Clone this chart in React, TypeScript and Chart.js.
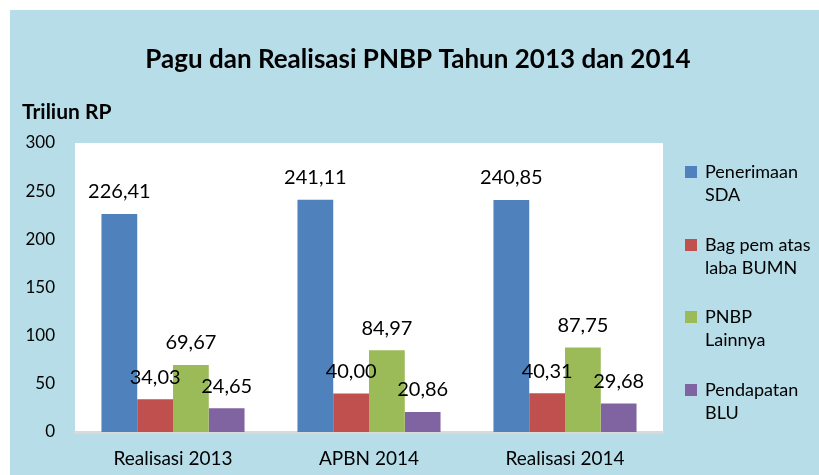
import React, { useEffect, useRef } from "react";
import { Chart, registerables } from "chart.js";

Chart.register(...registerables);

const categories = ["Realisasi 2013", "APBN 2014", "Realisasi 2014"];
const seriesLines = [
  ["Penerimaan", "SDA"],
  ["Bag pem atas", "laba BUMN"],
  ["PNBP", "Lainnya"],
  ["Pendapatan", "BLU"],
];
const penerimaanSDA = [226.41, 241.11, 240.85];
const bagPemBUMN = [34.03, 40.0, 40.31];
const pnbpLainnya = [69.67, 84.97, 87.75];
const pendapatanBLU = [24.65, 20.86, 29.68];
const seriesColors = ["#4F81BD", "#C0504D", "#9BBB59", "#8064A2"];
const yTicks = [0, 50, 100, 150, 200, 250, 300];
const titleText = "Pagu dan Realisasi PNBP Tahun 2013 dan 2014";
const axisTitle = "Triliun RP";

const FONT = "Lato, 'Open Sans', sans-serif";

const decorPlugin = {
  id: "decor",
  beforeDraw(chart: any) {
    const { ctx, chartArea, width, height } = chart;
    ctx.save();
    ctx.fillStyle = "#B7DDE8";
    ctx.fillRect(0, 0, width, height);
    ctx.fillStyle = "#FFFFFF";
    ctx.fillRect(chartArea.left, chartArea.top, chartArea.right - chartArea.left, chartArea.bottom - chartArea.top);
    ctx.restore();
  },
  afterDraw(chart: any) {
    const { ctx } = chart;
    ctx.save();
    ctx.fillStyle = "#000";
    ctx.textBaseline = "middle";
    ctx.textAlign = "center";
    ctx.font = `bold 26px ${FONT}`;
    ctx.fillText(titleText, 408, 50);
    ctx.textAlign = "left";
    ctx.font = `bold 21px ${FONT}`;
    ctx.fillText(axisTitle, 12, 102);
    const starts = [162, 235, 307, 380];
    ctx.font = `18px ${FONT}`;
    seriesLines.forEach((lines, i) => {
      const y0 = starts[i];
      ctx.fillStyle = seriesColors[i];
      ctx.fillRect(675, y0 - 6, 12, 12);
      ctx.fillStyle = "#000";
      lines.forEach((ln, j) => {
        ctx.fillText(ln, 695, y0 + j * 23);
      });
    });
    ctx.restore();
  },
  afterDatasetsDraw(chart: any) {
    const { ctx } = chart;
    ctx.save();
    ctx.fillStyle = "#000";
    ctx.font = `20px ${FONT}`;
    ctx.textAlign = "center";
    ctx.textBaseline = "middle";
    chart.data.datasets.forEach((ds: any, i: number) => {
      const meta = chart.getDatasetMeta(i);
      meta.data.forEach((bar: any, j: number) => {
        const v = ds.data[j] as number;
        ctx.fillText(v.toFixed(2).replace(".", ","), bar.x, bar.y - 22);
      });
    });
    ctx.restore();
  },
};

export default function App() {
  const ref = useRef<HTMLCanvasElement | null>(null);
  useEffect(() => {
    if (!ref.current) return;
    const allSeries = [penerimaanSDA, bagPemBUMN, pnbpLainnya, pendapatanBLU];
    const chart = new Chart(ref.current, {
      type: "bar",
      data: {
        labels: categories,
        datasets: allSeries.map((d, i) => ({
          label: seriesLines[i].join(" "),
          data: d,
          backgroundColor: seriesColors[i],
          borderWidth: 0,
          categoryPercentage: 0.73,
          barPercentage: 1,
        })),
      },
      options: {
        animation: false,
        responsive: false,
        maintainAspectRatio: false,
        layout: { padding: { left: 10, right: 156, top: 133, bottom: 3 } },
        plugins: {
          legend: { display: false },
          title: { display: false },
          tooltip: { enabled: false },
        },
        scales: {
          x: {
            grid: { display: false, drawTicks: false },
            border: { display: true, color: "#D9D9D9", width: 3 },
            ticks: { color: "#000", font: { family: FONT, size: 19 }, padding: 15, maxRotation: 0 },
            afterFit(scale: any) {
              scale.height = 40;
            },
          },
          y: {
            min: 0,
            max: 300,
            grid: { display: false, drawTicks: false },
            border: { display: false },
            afterBuildTicks(scale: any) {
              scale.ticks = yTicks.map((v) => ({ value: v }));
            },
            ticks: { color: "#000", font: { family: FONT, size: 17 }, padding: 20 },
            afterFit(scale: any) {
              scale.width = 55;
            },
          },
        },
      },
      plugins: [decorPlugin],
    });
    return () => chart.destroy();
  }, []);
  return (
    <div style={{ position: "absolute", left: 10, top: 10, width: 809, height: 465 }}>
      <canvas ref={ref} width={809} height={465} style={{ display: "block", width: 809, height: 465 }} />
    </div>
  );
}
